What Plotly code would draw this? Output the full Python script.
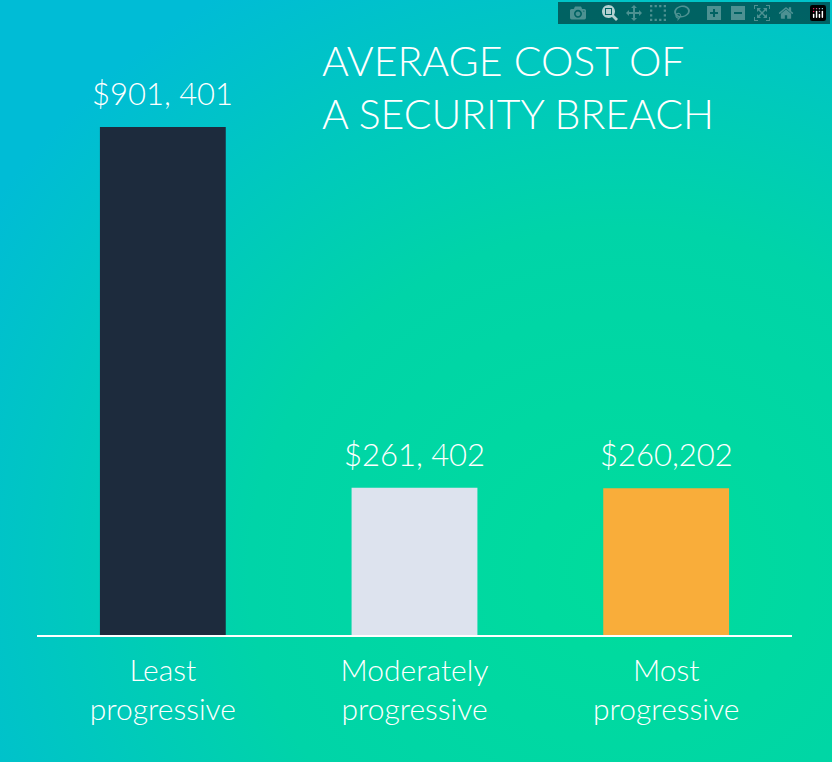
import plotly.graph_objects as go
import base64

categories = ["Least<br>progressive", "Moderately<br>progressive", "Most<br>progressive"]
values = [901401, 261402, 260202]
labels = ["$901, 401", "$261, 402", "$260,202"]
colors = ["#1d2b3d", "#dde3ee", "#f9ad3a"]

svg = ('<svg xmlns="http://www.w3.org/2000/svg" width="832" height="762">'
       '<defs><radialGradient id="g" cx="0.75" cy="0.75" r="0.9">'
       '<stop offset="0" stop-color="#00dc9c"/><stop offset="0.5" stop-color="#00d4a8"/>'
       '<stop offset="1" stop-color="#00bcd6"/></radialGradient></defs>'
       '<rect width="832" height="762" fill="url(#g)"/></svg>')
src = "data:image/svg+xml;base64," + base64.b64encode(svg.encode()).decode()

fig = go.Figure(go.Bar(
    x=categories, y=values, marker=dict(color=colors, line=dict(width=0)),
    width=0.5))

anns = [dict(x=c, y=v, text=t, xref="x", yref="y", yanchor="middle", yshift=34,
             showarrow=False, font=dict(family="Lato", size=31, color="white", weight=300))
        for c, v, t in zip(categories, values, labels)]
anns.append(dict(text="AVERAGE COST OF<br>A SECURITY BREACH", xref="paper", yref="paper",
                 x=(320-37)/755, y=1+(40-34)/595, xanchor="left", yanchor="top",
                 align="left", showarrow=False,
                 font=dict(family="Lato", size=41, color="white", weight=300)))

fig.update_layout(
    width=832, height=762, margin=dict(l=37, r=40, t=40, b=127),
    paper_bgcolor="rgba(0,0,0,0)", plot_bgcolor="rgba(0,0,0,0)",
    showlegend=False,
    images=[dict(source=src, xref="paper", yref="paper", x=-37/755, y=1+40/595,
                 sizex=832/755, sizey=762/595, xanchor="left", yanchor="top",
                 sizing="stretch", layer="below")],
    xaxis=dict(showline=True, linecolor="white", linewidth=2, ticks="", ticklabelstandoff=8,
               tickfont=dict(family="Lato", size=30, color="white", weight=300)),
    yaxis=dict(range=[0, 1055780], visible=False, showgrid=False),
    annotations=anns,
)
fig.write_html("out.html")
with open("out.html") as f:
    html = f.read()
html = html.replace("<body>", '<body style="margin:0;overflow:hidden">', 1)
with open("out.html", "w") as f:
    f.write(html)
